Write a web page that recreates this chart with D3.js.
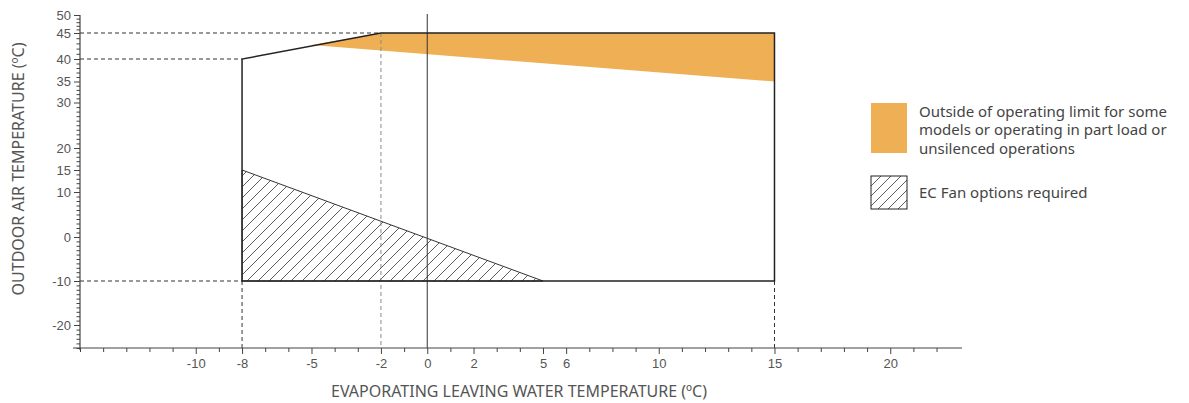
<!DOCTYPE html>
<html>
<head>
<meta charset="utf-8">
<script src="https://cdn.jsdelivr.net/npm/d3@7"></script>
<style>
  body { margin: 0; background: #fff; }
  svg { display: block; font-family: "Noto Sans", "Open Sans", sans-serif; }
  .tick-label { fill: #555; font-size: 13px; }
  .axis-title { fill: #555; font-size: 16px; }
  .legend-text { fill: #444; font-size: 15px; }
</style>
</head>
<body>
<svg id="chart" width="1189" height="403"></svg>
<script>
// y axis of the original is hand-drawn, so keep its break points
const y_breaks = [-25, -20, -10, 0, 10, 15, 20, 30, 35, 40, 45, 50];
const y_break_px = [348, 325, 281, 237, 192, 170, 148, 102.5, 81.5, 59, 33, 15];
const y_labels = [50, 45, 40, 35, 30, 20, 15, 10, 0, -10, -20];
const x_labels = [-10, -8, -5, -2, 0, 2, 5, 6, 10, 15, 20];

// operating envelope (water temp, air temp)
const envelope = [[-8, -10], [-8, 40], [-2, 45], [15, 45], [15, -10]];
// part-load / unsilenced zone
const orange_zone = [[-5, 42.7], [-2, 45], [15, 45], [15, 35]];
// EC fan zone
const hatch_zone = [[-8, 15], [-8, -10], [5, -10]];

const legend_items = [
  {kind: "fill", lines: ["Outside of operating limit for some", "models or operating in part load or", "unsilenced operations"]},
  {kind: "hatch", lines: ["EC Fan options required"]}
];

const svg = d3.select("#chart");

const x = d3.scaleLinear().domain([-15, 23.1]).range([80, 962]);
const y = d3.scaleLinear().domain(y_breaks).range(y_break_px);

const defs = svg.append("defs");
function add_hatch(id, gap) {
  defs.append("pattern")
      .attr("id", id)
      .attr("patternUnits", "userSpaceOnUse")
      .attr("width", gap)
      .attr("height", gap)
    .append("path")
      .attr("d", `M${-gap/2},${gap/2} L${gap/2},${-gap/2} M0,${gap} L${gap},0 M${gap/2},${gap*1.5} L${gap*1.5},${gap/2}`)
      .attr("stroke", "#333")
      .attr("stroke-width", 0.8);
}
add_hatch("hatch", 11);
add_hatch("hatch-legend", 10);

const line = d3.line().x(d => x(d[0])).y(d => y(d[1]));
const plain = d => String(d);   // hyphen minus like the original

// zones
svg.append("path")
    .attr("d", line(orange_zone) + "Z")
    .attr("fill", "#EFB055");
svg.append("path")
    .attr("d", line(hatch_zone) + "Z")
    .attr("fill", "url(#hatch)")
    .attr("stroke", "#333")
    .attr("stroke-width", 1);

// dashed guide lines
const guides = svg.append("g")
    .attr("fill", "none")
    .attr("stroke-dasharray", "4,3")
    .attr("stroke-width", 1);
guides.append("line")
    .attr("x1", x(-15)).attr("x2", x(-2))
    .attr("y1", y(45)).attr("y2", y(45))
    .attr("stroke", "#333");
guides.append("line")
    .attr("x1", x(-15)).attr("x2", x(-8))
    .attr("y1", y(40)).attr("y2", y(40))
    .attr("stroke", "#333");
guides.append("line")
    .attr("x1", x(-15)).attr("x2", x(-8))
    .attr("y1", y(-10)).attr("y2", y(-10))
    .attr("stroke", "#333");
guides.append("line")
    .attr("x1", x(-2)).attr("x2", x(-2))
    .attr("y1", y(45)).attr("y2", y(-25))
    .attr("stroke", "#888");
[-8, 15].forEach(v => {
  guides.append("line")
      .attr("x1", x(v)).attr("x2", x(v))
      .attr("y1", y(-10)).attr("y2", y(-25))
      .attr("stroke", "#333");
});

// zero line
svg.append("line")
    .attr("x1", x(0)).attr("x2", x(0))
    .attr("y1", y(50) - 1).attr("y2", y(-25))
    .attr("stroke", "#333")
    .attr("stroke-width", 1);

// envelope outline
svg.append("path")
    .attr("d", line(envelope) + "Z")
    .attr("fill", "none")
    .attr("stroke", "#222")
    .attr("stroke-width", 1.5)
    .attr("stroke-linejoin", "miter");

// y axis
const y_minor = d3.range(-25, 51).filter(v => !y_labels.includes(v));
const y_axis_minor = d3.axisLeft(y).tickValues(y_minor).tickSize(3.5).tickFormat("");
const y_axis_major = d3.axisLeft(y).tickValues(y_labels).tickSize(6).tickPadding(3).tickFormat(plain);
svg.append("g")
    .attr("transform", `translate(${x(-15)},0)`)
    .call(y_axis_minor)
    .call(g => g.select(".domain").remove())
    .call(g => g.selectAll("line").attr("stroke", "#444"));
svg.append("g")
    .attr("transform", `translate(${x(-15)},0)`)
    .call(y_axis_major)
    .call(g => g.select(".domain").remove())
    .call(g => g.selectAll("line").attr("stroke", "#444"))
    .call(g => g.selectAll("text").attr("class", "tick-label").attr("font-family", null).attr("font-size", null).attr("fill", null));
svg.append("line")
    .attr("x1", x(-15)).attr("x2", x(-15))
    .attr("y1", y(50)).attr("y2", y(-25) + 2)
    .attr("stroke", "#444").attr("stroke-width", 1.2);

// x axis
const x_minor = d3.range(-15, 23).filter(v => !x_labels.includes(v));
const x_axis_minor = d3.axisBottom(x).tickValues(x_minor).tickSize(4).tickFormat("");
const x_axis_major = d3.axisBottom(x).tickValues(x_labels).tickSize(6).tickPadding(5).tickFormat(plain);
svg.append("g")
    .attr("transform", `translate(0,${y(-25)})`)
    .call(x_axis_minor)
    .call(g => g.select(".domain").remove())
    .call(g => g.selectAll("line").attr("stroke", "#444"));
svg.append("g")
    .attr("transform", `translate(0,${y(-25)})`)
    .call(x_axis_major)
    .call(g => g.select(".domain").remove())
    .call(g => g.selectAll("line").attr("stroke", "#444"))
    .call(g => g.selectAll("text").attr("class", "tick-label").attr("font-family", null).attr("font-size", null).attr("fill", null));
svg.append("line")
    .attr("x1", 73).attr("x2", 962)
    .attr("y1", y(-25)).attr("y2", y(-25))
    .attr("stroke", "#444").attr("stroke-width", 1.2);

// axis titles
svg.append("text")
    .attr("class", "axis-title")
    .attr("transform", `translate(24,169) rotate(-90)`)
    .attr("text-anchor", "middle")
    .text("OUTDOOR AIR TEMPERATURE (ºC)");
svg.append("text")
    .attr("class", "axis-title")
    .attr("x", 519)
    .attr("y", 397)
    .attr("text-anchor", "middle")
    .text("EVAPORATING LEAVING WATER TEMPERATURE (ºC)");

// legend
const legend = svg.append("g").attr("transform", "translate(871,103)");
legend_items.forEach((item, i) => {
  const g = legend.append("g").attr("transform", `translate(0,${i === 0 ? 0 : 73})`);
  if (item.kind === "fill") {
    g.append("rect").attr("width", 36).attr("height", 50).attr("fill", "#EFB055");
  } else {
    g.append("rect").attr("width", 36).attr("height", 33)
        .attr("fill", "url(#hatch-legend)")
        .attr("stroke", "#222").attr("stroke-width", 1);
  }
  const first = item.kind === "fill" ? 14 : 22;
  g.selectAll("text")
    .data(item.lines)
    .join("text")
      .attr("class", "legend-text")
      .attr("x", 48)
      .attr("y", (d, j) => first + j * 18.3)
      .text(d => d);
});
</script>
</body>
</html>
